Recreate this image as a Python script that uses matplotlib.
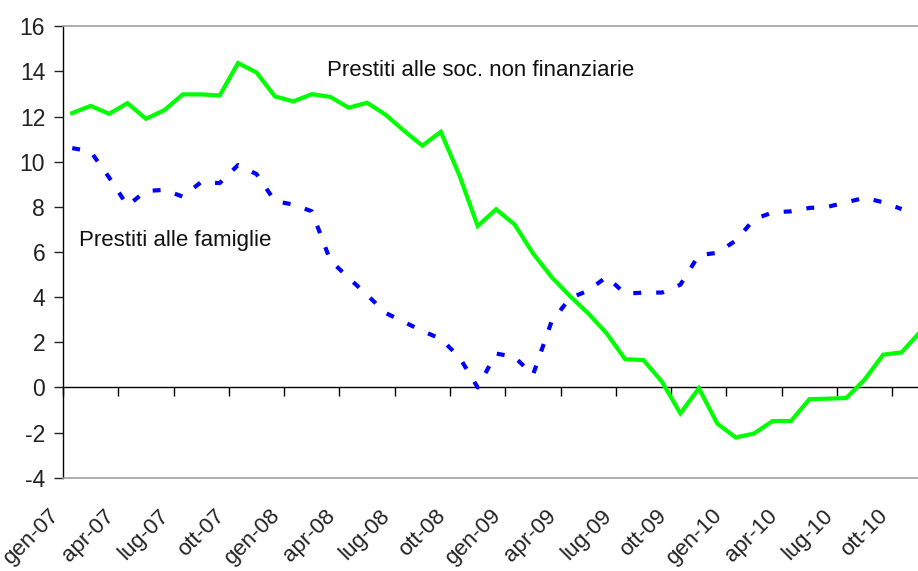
import matplotlib
matplotlib.use('Agg')
import matplotlib.pyplot as plt
import numpy as np

plt.rcParams['font.family'] = ['Liberation Sans Narrow', 'Liberation Sans', 'DejaVu Sans']

# monthly series, gen-07 .. nov-10 (percent changes)
mesi = ['gen-07', 'apr-07', 'lug-07', 'ott-07', 'gen-08', 'apr-08', 'lug-08', 'ott-08',
        'gen-09', 'apr-09', 'lug-09', 'ott-09', 'gen-10', 'apr-10', 'lug-10', 'ott-10']

soc_non_fin = [12.15, 12.47, 12.12, 12.59, 11.90, 12.28, 12.98, 12.98, 12.93, 14.37,
               13.95, 12.89, 12.67, 12.99, 12.87, 12.39, 12.61, 12.08, 11.37, 10.71,
               11.32, 9.41, 7.15, 7.89, 7.22, 5.94, 4.90, 4.05, 3.28, 2.39,
               1.25, 1.21, 0.25, -1.15, -0.04, -1.60, -2.22, -2.04, -1.49, -1.49,
               -0.52, -0.50, -0.47, 0.35, 1.45, 1.55, 2.45]

famiglie = [10.60, 10.45, 9.30, 8.05, 8.70, 8.75, 8.45, 9.10, 9.05, 9.85,
            9.45, 8.25, 8.10, 7.80, 5.63, 4.85, 4.10, 3.30, 2.90, 2.50,
            2.15, 1.35, 0.00, 1.50, 1.35, 0.55, 2.90, 3.95, 4.29, 4.90,
            4.15, 4.20, 4.20, 4.55, 5.86, 5.96, 6.50, 7.45, 7.75, 7.80,
            7.95, 8.00, 8.20, 8.40, 8.20, 7.90]

x_soc = np.arange(len(soc_non_fin)) + 0.5
x_fam = np.arange(len(famiglie)) + 0.5

fig = plt.figure(figsize=(9.18, 5.71), dpi=100)
# right edge of the plot area runs past the picture, as in the original
ax = fig.add_axes([63 / 918, 93.3 / 571, 48 * 18.43 / 918, 451.5 / 571])

ax.plot(x_soc, soc_non_fin, color='#00ff00', lw=3.0, solid_joinstyle='miter', zorder=3)
ax.plot(x_fam, famiglie, color='#0000ff', lw=3.0, dashes=(1.9, 3.6),
        dash_capstyle='butt', zorder=3)

ax.set_xlim(0, 48)
ax.set_ylim(-4, 16)
ax.set_yticks(np.arange(-4, 17, 2))
ax.set_yticklabels([str(v) for v in range(-4, 17, 2)])
ax.tick_params(axis='y', direction='out', length=6.8, width=1, pad=6,
               labelsize=16.5, colors='#222222')

ticks = np.arange(0, 48, 3)
ax.set_xticks(ticks)
ax.set_xticklabels(mesi, rotation=45, ha='right', va='top')
ax.tick_params(axis='x', length=0, pad=20, labelsize=16, colors='#222222')

for s in ['top', 'bottom', 'right']:
    ax.spines[s].set_color('#a0a0a0')
    ax.spines[s].set_linewidth(1.2)
ax.spines['left'].set_color('black')
ax.spines['left'].set_linewidth(1.0)

# axis line at zero with its tick marks
zero = ax.secondary_xaxis(4 / 20)
zero.xaxis.set_ticks_position('bottom')
zero.set_xticks(ticks)
zero.tick_params(axis='x', direction='out', length=6.3, width=1, labelbottom=False,
                 labeltop=False, colors='black')
zero.spines['top'].set_visible(False)
zero.spines['bottom'].set_visible(True)
zero.spines['bottom'].set_color('black')
zero.spines['bottom'].set_linewidth(1.0)

ax.text(14.34, 13.8, 'Prestiti alle soc. non finanziarie', fontsize=16,
        color='#111111', ha='left', va='baseline')
ax.text(0.88, 6.27, 'Prestiti alle famiglie', fontsize=16,
        color='#111111', ha='left', va='baseline')

fig.savefig('out.png', dpi=100)
